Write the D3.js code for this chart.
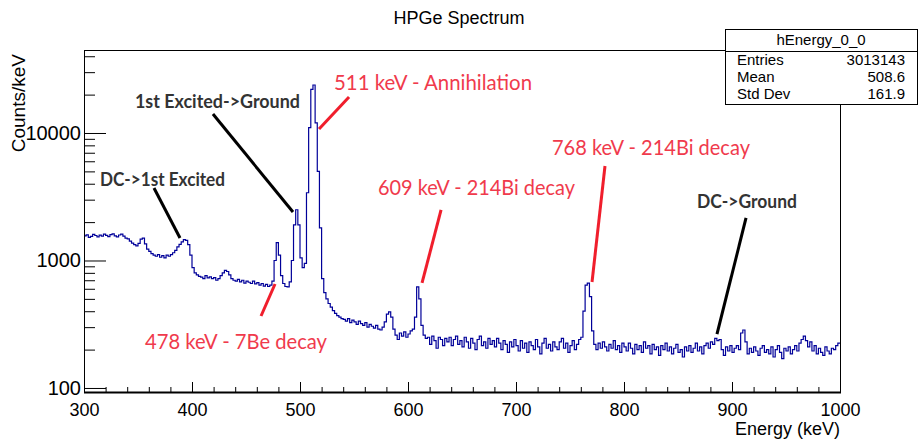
<!DOCTYPE html>
<html>
<head>
<meta charset="utf-8">
<script src="https://cdn.jsdelivr.net/npm/d3@7"></script>
<style>
  body { margin: 0; background: #fff; }
  svg { display: block; }
  .axis text { font-family: "Liberation Sans", Arial, sans-serif; font-size: 18px; fill: #000; }
  .yaxis text { font-size: 20px; }
  .axis path { display: none; }
  .axis line { stroke: #000; }
</style>
</head>
<body>
<svg id="chart" width="918" height="441"></svg>
<script>
// Histogram: 2 keV bins from 300 to 1000 keV, counts per keV
const binLow = d3.range(300, 1000, 2);
const counts = [
  1560,1590,1520,1545,1600,1570,1530,1580,1555,1610,
  1575,1540,1595,1620,1560,1530,1585,1610,1550,1500,
  1480,1420,1370,1330,1300,1360,1470,1500,1350,1230,
  1180,1130,1100,1080,1110,1060,1090,1050,1100,1080,
  1110,1150,1200,1280,1340,1400,1460,1440,1330,1100,
  880,800,770,750,740,720,760,730,745,720,
  735,700,720,760,800,835,820,770,720,700,
  690,710,680,700,665,690,675,660,690,655,
  670,640,660,630,650,625,640,690,1000,1380,
  1100,760,660,625,620,680,1000,1900,2500,1900,
  1050,880,950,3400,11000,22000,23800,12000,5000,1800,
  720,560,500,460,430,405,385,370,360,350,
  345,335,350,325,340,330,315,335,320,310,
  325,300,315,305,295,310,290,285,300,330,
  380,395,360,290,260,240,270,255,275,250,
  265,280,290,360,620,500,310,260,245,250,
  220,255,235,205,250,240,215,245,230,250,
  215,240,255,220,235,210,250,230,205,245,
  225,200,240,255,215,230,205,245,220,235,
  210,245,225,200,235,220,190,230,210,240,
  215,195,235,205,225,190,230,215,200,240,
  210,185,225,245,205,220,195,230,210,200,
  230,245,205,225,190,215,235,200,220,240,
  250,400,640,665,520,280,220,200,225,205,
  230,210,195,220,205,235,200,215,190,225,
  210,195,225,205,185,220,200,215,190,230,
  205,215,185,220,200,210,180,215,200,225,
  195,210,185,205,220,190,200,175,210,195,
  215,190,205,225,195,210,185,215,225,205,
  230,220,245,235,240,200,180,210,195,215,
  190,205,215,200,270,285,230,185,205,190,
  210,195,180,205,215,190,200,185,210,175,
  200,215,190,170,205,195,210,185,200,215,
  195,225,240,255,235,210,230,195,215,185,
  205,190,180,210,195,185,205,200,215,225
];

// Ticks
const xMajor = [300, 400, 500, 600, 700, 800, 900, 1000];
const xMinor = d3.range(300, 1001, 20);
const yMajor = [100, 1000, 10000];
const yMinor = [200,300,400,500,600,700,800,900,2000,3000,4000,5000,6000,7000,8000,9000,20000,30000,40000];

// Stats box
const statNames = ["Entries", "Mean", "Std Dev"];
const statValues = ["3013143", "508.6", "161.9"];

// Annotations (energy keV, counts/keV)
const labelText = ["1st Excited->Ground", "DC->1st Excited", "DC->Ground",
  "511 keV - Annihilation", "609 keV - 214Bi decay", "768 keV - 214Bi decay", "478 keV - 7Be decay"];
const labelE = [347.2, 314.8, 867.6, 531.5, 572.2, 733.3, 356.5];
const labelC = [17500, 4280, 2877, 24660, 3705, 7630, 230];
const labelRed = [false, false, false, true, true, true, true];
const labelWidth = [165, 125, 100, 198, 197, 198, 182];

const pointerFrom = [[419.4, 14090], [364.8, 3705], [913, 2155], [545.4, 19150], [630.6, 2490], [782.4, 5510], [476.9, 654]];
const pointerTo   = [[493.5, 2400],  [388.9, 1502], [886.1, 265], [517.6, 10750], [613, 666],   [770.4, 678],  [463.9, 367]];

//////////////////// Layout ////////////////////
const frame = {left: 84, right: 840, top: 50, bottom: 392};
const svg = d3.select("#chart");
const rootFont = "Liberation Sans, Arial, sans-serif";

const x = d3.scaleLinear().domain([300, 1000]).range([frame.left, frame.right]);
const y = d3.scaleLog().domain([93, 44770]).range([frame.bottom, frame.top]);

// Title
svg.append("text")
  .attr("x", 459).attr("y", 18).attr("dy", "0.35em")
  .attr("text-anchor", "middle")
  .style("font-family", rootFont)
  .style("font-size", "18px")
  .text("HPGe Spectrum");

// Histogram
svg.append("clipPath").attr("id", "clip")
  .append("rect")
  .attr("x", frame.left).attr("y", frame.top)
  .attr("width", frame.right - frame.left).attr("height", frame.bottom - frame.top);

const pts = binLow.map((e, i) => [e, counts[i]]);
pts.push([1000, counts[counts.length - 1]]);

const line = d3.line()
  .x(d => x(d[0]))
  .y(d => y(d[1]))
  .curve(d3.curveStepAfter);

svg.append("path")
  .datum(pts)
  .attr("clip-path", "url(#clip)")
  .attr("d", line)
  .attr("fill", "none")
  .attr("stroke", "#000099")
  .attr("stroke-width", 1.2);

// Axes
svg.append("g").attr("class", "axis")
  .attr("transform", `translate(0,${frame.bottom})`)
  .call(d3.axisBottom(x).tickValues(xMinor).tickSize(-5).tickFormat(""));
svg.append("g").attr("class", "axis")
  .attr("transform", `translate(0,${frame.bottom})`)
  .call(d3.axisBottom(x).tickValues(xMajor).tickSize(-10).tickPadding(11).tickFormat(d3.format("d")));

svg.append("g").attr("class", "axis yaxis")
  .attr("transform", `translate(${frame.left},0)`)
  .call(d3.axisLeft(y).tickValues(yMinor).tickSize(-11).tickFormat(""));
svg.append("g").attr("class", "axis yaxis")
  .attr("transform", `translate(${frame.left},0)`)
  .call(d3.axisLeft(y).tickValues(yMajor).tickSize(-22).tickPadding(3).tickFormat(d3.format("d")));

// Frame
svg.append("rect")
  .attr("x", frame.left + 0.5).attr("y", frame.top + 0.5)
  .attr("width", frame.right - frame.left).attr("height", frame.bottom - frame.top)
  .attr("fill", "none").attr("stroke", "#000");
svg.append("line")
  .attr("x1", frame.left).attr("x2", frame.right + 1)
  .attr("y1", frame.bottom + 0.5).attr("y2", frame.bottom + 0.5)
  .attr("stroke", "#000").attr("stroke-width", 2);

// Axis titles
svg.append("text")
  .attr("transform", `translate(18,${frame.top + 4}) rotate(-90)`)
  .attr("dy", "0.35em")
  .attr("text-anchor", "end")
  .style("font-family", rootFont)
  .style("font-size", "19px")
  .text("Counts/keV");

svg.append("text")
  .attr("x", frame.right).attr("y", 429).attr("dy", "0.35em")
  .attr("text-anchor", "end")
  .style("font-family", rootFont)
  .style("font-size", "18px")
  .text("Energy (keV)");

//////////////////// Annotations ////////////////////
pointerFrom.forEach((p, i) => {
  svg.append("line")
    .attr("x1", x(p[0])).attr("y1", y(p[1]))
    .attr("x2", x(pointerTo[i][0])).attr("y2", y(pointerTo[i][1]))
    .attr("stroke", labelRed[i] ? "#f01e2c" : "#000")
    .attr("stroke-width", 3);
});

labelText.forEach((t, i) => {
  svg.append("text")
    .attr("x", x(labelE[i])).attr("y", y(labelC[i])).attr("dy", "0.35em")
    .attr("textLength", labelWidth[i])
    .attr("lengthAdjust", "spacingAndGlyphs")
    .style("font-family", "Lato, 'Open Sans', sans-serif")
    .style("font-size", labelRed[i] ? "21px" : "18px")
    .style("font-weight", labelRed[i] ? "normal" : "bold")
    .attr("fill", labelRed[i] ? "#f03a4c" : "#333")
    .text(t);
});

//////////////////// Stats box ////////////////////
const box = {left: 725, right: 917, top: 29, bottom: 104, sep: 51};

svg.append("rect")
  .attr("x", box.left + 0.5).attr("y", box.top + 0.5)
  .attr("width", box.right - box.left).attr("height", box.bottom - box.top)
  .attr("fill", "#fff").attr("stroke", "#000");
svg.append("line")
  .attr("x1", box.left).attr("x2", box.right)
  .attr("y1", box.sep + 0.5).attr("y2", box.sep + 0.5)
  .attr("stroke", "#000");

svg.append("text")
  .attr("x", (box.left + box.right) / 2).attr("y", 40).attr("dy", "0.35em")
  .attr("text-anchor", "middle")
  .style("font-family", rootFont).style("font-size", "15px")
  .text("hEnergy_0_0");

statNames.forEach((n, i) => {
  const yy = 60 + i * 17;
  svg.append("text")
    .attr("x", 737).attr("y", yy).attr("dy", "0.35em")
    .style("font-family", rootFont).style("font-size", "15px")
    .text(n);
  svg.append("text")
    .attr("x", 905).attr("y", yy).attr("dy", "0.35em")
    .attr("text-anchor", "end")
    .style("font-family", rootFont).style("font-size", "15px")
    .text(statValues[i]);
});
</script>
</body>
</html>
